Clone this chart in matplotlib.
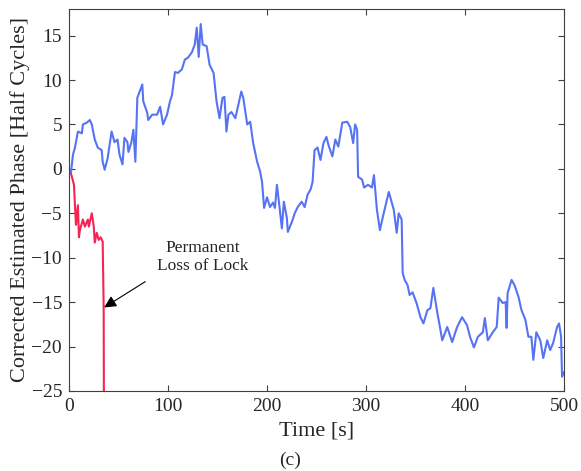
import numpy as np
import matplotlib.pyplot as plt

plt.rcParams['font.family'] = ['Liberation Serif', 'DejaVu Serif']
plt.rcParams['mathtext.fontset'] = 'stix'

# tracked (corrected) phase
t_track = [0, 2, 4, 6, 9, 13, 14, 18, 21, 23, 26, 29, 33, 34, 36, 39, 43, 46, 49, 51,
           54, 56, 59, 60, 63, 65, 67, 69, 72, 74, 75, 79, 80, 84, 89, 92, 95, 99, 102, 104,
           107, 110, 114, 117, 120, 124, 127, 129, 131, 133, 135, 139, 142, 146, 149, 152, 155, 157, 159, 161,
           164, 168, 171, 174, 176, 180, 183, 186, 190, 193, 195, 197, 200, 203, 206, 208, 210, 212, 215, 217,
           220, 221, 225, 228, 231, 235, 238, 241, 244, 246, 248, 251, 254, 257, 260, 262, 266, 269, 272, 276,
           281, 284, 287, 289, 291, 292, 296, 298, 302, 306, 308, 311, 314, 317, 321, 323, 326, 328, 331, 333,
           336, 337, 339, 342, 344, 347, 351, 355, 358, 362, 365, 368, 372, 374, 377, 382, 387, 392, 397, 402,
           405, 409, 413, 418, 420, 423, 428, 432, 434, 438, 441, 442, 443, 447, 450, 454, 457, 461, 464, 467,
           469, 472, 476, 479, 483, 486, 489, 493, 495, 497, 498, 500]
ph_track = [0.0, -0.4, 1.6, 2.4, 4.2, 4.0, 5.0, 5.2, 5.5, 5.0, 3.3, 2.4, 2.1, 0.8, -0.1, 1.2, 4.2, 3.0, 3.3, 1.6,
            0.5, 3.5, 3.0, 1.9, 3.0, 4.4, 0.8, 8.0, 8.9, 9.5, 7.6, 6.3, 5.5, 6.1, 6.1, 7.0, 5.0, 6.1, 7.6, 8.3,
            10.9, 10.8, 11.2, 12.3, 12.5, 13.1, 14.0, 15.9, 12.6, 16.3, 14.0, 13.8, 11.7, 10.8, 7.6, 5.7, 8.0, 8.1, 4.2, 6.1,
            6.4, 5.7, 7.2, 8.7, 8.0, 5.0, 5.3, 2.9, 0.8, -0.3, -1.5, -4.4, -3.2, -4.3, -3.8, -4.4, -1.8, -3.7, -6.7, -3.7,
            -5.5, -7.1, -6.0, -5.0, -4.3, -3.7, -4.3, -2.9, -2.3, -1.5, 2.1, 2.4, 1.0, 2.9, 3.6, 2.7, 1.4, 3.3, 2.5, 5.2,
            5.3, 4.7, 2.9, 5.0, 4.4, -0.9, -1.2, -2.1, -1.8, -2.1, -0.7, -4.6, -6.9, -5.4, -3.5, -2.6, -3.8, -4.6, -7.2, -5.0,
            -5.7, -11.7, -12.5, -13.1, -14.2, -13.9, -15.1, -16.7, -17.4, -15.9, -15.7, -13.4, -16.2, -17.4, -19.3, -17.8, -19.5, -17.8, -16.7, -17.6,
            -18.9, -20.1, -18.9, -18.4, -16.8, -19.3, -18.4, -17.8, -14.5, -15.1, -15.0, -17.9, -14.0, -12.5, -13.1, -14.4, -15.9, -17.0, -18.9, -18.9,
            -21.5, -18.4, -19.3, -21.3, -19.3, -20.4, -19.6, -17.8, -17.4, -18.9, -23.4, -22.9]

# phase that loses lock
t_lost = [0, 1, 5, 6, 7, 9, 10, 11, 14, 16, 19, 20, 23, 25, 26, 28, 30, 32, 34, 35, 35.5]
ph_lost = [0.0, -0.1, -1.8, -4.1, -6.3, -4.1, -7.7, -6.9, -5.7, -6.5, -5.7, -6.5, -5.0, -6.5, -8.3, -7.2, -8.0, -7.7, -8.2, -15.7, -40.0]

xticks = [0, 100, 200, 300, 400, 500]
yticks = [-25, -20, -15, -10, -5, 0, 5, 10, 15]

fig = plt.figure(figsize=(5.81, 4.71), dpi=100)
ax = fig.add_axes([0.1188, 0.170, 0.852, 0.811])

ax.plot(t_lost, ph_lost, color='#F52452', lw=1.5)
ax.plot(t_track, ph_track, color='#5673F5', lw=1.5)

ax.set_xlim(0, 500)
ax.set_ylim(-25, 18)
ax.set_xticks(xticks)
ax.set_yticks(yticks)

ax.tick_params(direction='in', top=True, right=True, length=4, width=0.8,
               color='#404040', labelsize=14, labelcolor='#262626', pad=5)
for s in ax.spines.values():
    s.set_color('#404040')
    s.set_linewidth(0.8)

ax.set_xlabel('Time [s]', fontsize=16, color='#262626', labelpad=5)
ax.set_ylabel('Corrected Estimated Phase [Half Cycles]', fontsize=16, color='#262626', labelpad=1)

ax.text(135, -9.9, 'Permanent\nLoss of Lock', fontsize=12.5, ha='center', va='center',
        color='#262626', linespacing=1.2)
ax.annotate('', xy=(35.5, -15.6), xytext=(77, -12.7),
            arrowprops=dict(arrowstyle='-|>', color='black', lw=0.8, mutation_scale=18,
                            shrinkA=0, shrinkB=0))

fig.text(0.5, 0.004, '(c)', fontsize=14, ha='center', va='bottom', color='#262626')

fig.savefig('out.png', dpi=100)
